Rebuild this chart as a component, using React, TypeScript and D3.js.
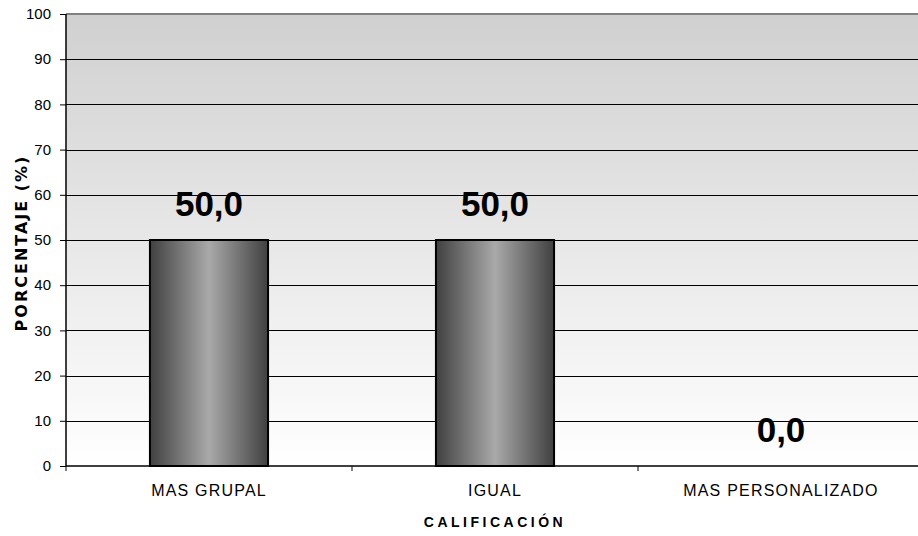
import React, { useEffect, useRef } from 'react';
import * as d3 from 'd3';

const categories = ['MAS GRUPAL', 'IGUAL', 'MAS PERSONALIZADO'];
const values = [50.0, 50.0, 0.0];
const yTicks = [0, 10, 20, 30, 40, 50, 60, 70, 80, 90, 100];

const App: React.FC = () => {
    const svgRef = useRef<SVGSVGElement>(null);

    useEffect(() => {
        if (!svgRef.current) return;
        const width = 918;
        const height = 536;
        const svg = d3.select(svgRef.current);
        svg.selectAll('*').remove();

        const margin = { top: 14, left: 66, bottom: 70 };
        const plotRight = 924;
        const plotBottom = height - margin.bottom;

        const x = d3.scaleBand<string>()
            .domain(categories)
            .range([margin.left, plotRight])
            .paddingInner(0.587)
            .paddingOuter(0.2935);

        const y = d3.scaleLinear()
            .domain([0, 100])
            .range([plotBottom, margin.top]);

        const defs = svg.append('defs');
        const bg = defs.append('linearGradient')
            .attr('id', 'bg').attr('x1', 0).attr('y1', 0).attr('x2', 0).attr('y2', 1);
        bg.append('stop').attr('offset', '0%').attr('stop-color', '#d0d0d0');
        bg.append('stop').attr('offset', '100%').attr('stop-color', '#ffffff');

        const bar = defs.append('linearGradient')
            .attr('id', 'bar').attr('x1', 0).attr('y1', 0).attr('x2', 1).attr('y2', 0);
        bar.append('stop').attr('offset', '0%').attr('stop-color', '#404040');
        bar.append('stop').attr('offset', '50%').attr('stop-color', '#a9a9a9');
        bar.append('stop').attr('offset', '100%').attr('stop-color', '#404040');

        // plot background
        svg.append('rect')
            .attr('x', margin.left)
            .attr('y', margin.top)
            .attr('width', plotRight - margin.left)
            .attr('height', plotBottom - margin.top)
            .attr('fill', 'url(#bg)');

        // grid lines
        svg.append('g')
            .selectAll('line')
            .data(yTicks.filter(t => t > 0 && t < 100))
            .enter()
            .append('line')
            .attr('x1', margin.left)
            .attr('x2', plotRight)
            .attr('y1', d => Math.round(y(d)) + 0.5)
            .attr('y2', d => Math.round(y(d)) + 0.5)
            .attr('stroke', '#000')
            .attr('stroke-width', 1);

        // top border
        svg.append('line')
            .attr('x1', margin.left)
            .attr('x2', plotRight)
            .attr('y1', y(100))
            .attr('y2', y(100))
            .attr('stroke', '#808080')
            .attr('stroke-width', 2);

        // bars
        svg.append('g')
            .selectAll('rect')
            .data(categories.map((c, i) => ({ c, v: values[i] })).filter(d => d.v > 0))
            .enter()
            .append('rect')
            .attr('x', d => x(d.c)!)
            .attr('y', d => y(d.v))
            .attr('width', x.bandwidth())
            .attr('height', d => plotBottom - y(d.v))
            .attr('fill', 'url(#bar)')
            .attr('stroke', '#000')
            .attr('stroke-width', 2);

        // value labels
        svg.append('g')
            .selectAll('text')
            .data(values)
            .enter()
            .append('text')
            .attr('x', (d, i) => x(categories[i])! + x.bandwidth() / 2)
            .attr('y', d => y(d) - 24)
            .attr('text-anchor', 'middle')
            .style('font-family', 'Liberation Sans, Arial, sans-serif')
            .style('font-weight', 'bold')
            .style('font-size', '35px')
            .attr('fill', '#000')
            .text(d => d.toFixed(1).replace('.', ','));

        // y axis (ticks + line), labels drawn separately
        const yAxis = svg.append('g')
            .attr('transform', `translate(${margin.left},0)`)
            .call(d3.axisLeft(y).tickValues(yTicks).tickSize(6).tickFormat(() => ''));
        yAxis.select('.domain').attr('stroke', '#000').attr('stroke-width', 1.5)
            .attr('d', `M0,${plotBottom}V${margin.top}`);

        svg.append('g')
            .selectAll('text')
            .data(yTicks)
            .enter()
            .append('text')
            .attr('x', margin.left - 15)
            .attr('y', d => y(d))
            .attr('dy', '0.35em')
            .attr('text-anchor', 'end')
            .attr('font-family', 'Liberation Sans, Arial, sans-serif')
            .attr('font-size', 15)
            .attr('fill', '#000')
            .text(d => d);

        // x baseline with category ticks
        svg.append('line')
            .attr('x1', margin.left)
            .attr('x2', plotRight)
            .attr('y1', plotBottom)
            .attr('y2', plotBottom)
            .attr('stroke', '#000')
            .attr('stroke-width', 1.5);
        const step = x.step();
        svg.append('g')
            .selectAll('line')
            .data(d3.range(categories.length + 1))
            .enter()
            .append('line')
            .attr('x1', i => margin.left + i * step)
            .attr('x2', i => margin.left + i * step)
            .attr('y1', plotBottom)
            .attr('y2', plotBottom + 5)
            .attr('stroke', '#000');

        // category labels
        svg.append('g')
            .selectAll('text')
            .data(categories)
            .enter()
            .append('text')
            .attr('x', d => x(d)! + x.bandwidth() / 2)
            .attr('y', plotBottom + 30)
            .attr('text-anchor', 'middle')
            .style('font-family', 'Liberation Sans, Arial, sans-serif')
            .style('font-size', '16px')
            .style('letter-spacing', '1.2px')
            .attr('fill', '#000')
            .text(d => d);

        // axis titles
        svg.append('text')
            .attr('x', x('IGUAL')! + x.bandwidth() / 2)
            .attr('y', 527)
            .attr('text-anchor', 'middle')
            .style('font-family', 'Liberation Sans, Arial, sans-serif')
            .style('font-weight', 'bold')
            .style('font-size', '14px')
            .style('letter-spacing', '3.5px')
            .attr('fill', '#000')
            .text('CALIFICACIÓN');

        svg.append('text')
            .attr('transform', `translate(27,${243}) rotate(-90)`)
            .attr('text-anchor', 'middle')
            .style('font-family', 'DejaVu Sans, sans-serif')
            .style('font-weight', 'bold')
            .style('font-size', '16px')
            .style('letter-spacing', '2px')
            .attr('fill', '#000')
            .text('PORCENTAJE (%)');

        svg.attr('width', width).attr('height', height);
    }, []);

    return (
        <div style={{ position: 'absolute', left: 0, top: 0, background: '#fff' }}>
            <svg ref={svgRef} style={{ display: 'block' }}></svg>
        </div>
    );
};

export default App;
